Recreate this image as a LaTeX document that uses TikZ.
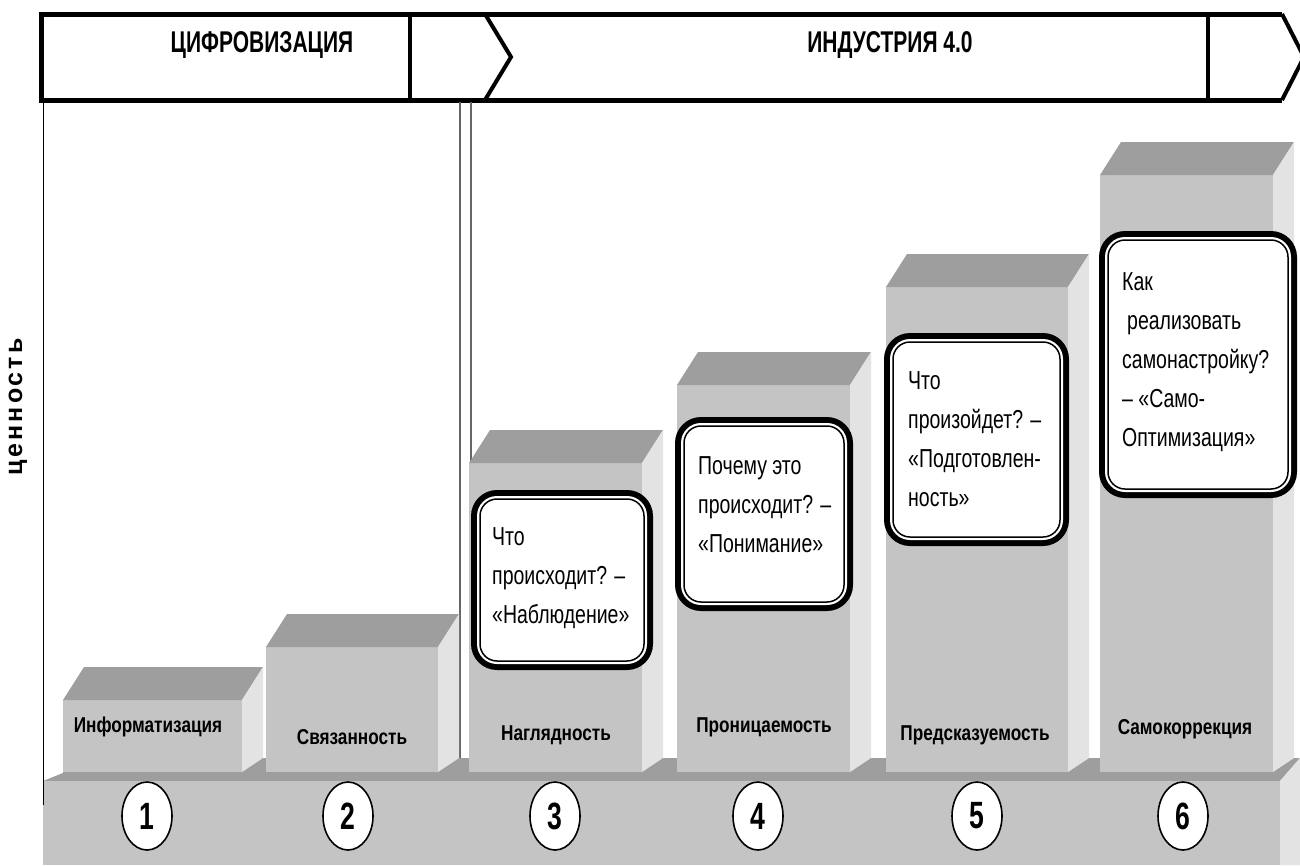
\documentclass[tikz,border=0pt]{standalone}
\usepackage{fontspec}
\setmainfont{Liberation Sans}
\newfontfamily\narrowfont[FakeStretch=0.8]{Liberation Sans}
\newfontfamily\qfont[FakeStretch=0.75]{Liberation Sans}
\newfontfamily\condfont[FakeStretch=0.7]{Liberation Sans}
\newfontfamily\widefont[LetterSpace=12]{Liberation Sans}
\usetikzlibrary{shapes.geometric}
\definecolor{frontg}{gray}{0.77}
\definecolor{topg}{gray}{0.62}
\definecolor{sideg}{gray}{0.89}
\newcommand{\myblock}[3]{%
  \fill[frontg] (#1,#3) rectangle (#2,772);
  \fill[topg] (#1,#3) -- (#2,#3) -- ({#2+21},{#3-33}) -- ({#1+21},{#3-33}) -- cycle;
  \fill[sideg] (#2,#3) -- ({#2+21},{#3-33}) -- ({#2+21},758) -- (#2,772) -- cycle;
}
\newcommand{\mycallout}[4]{%
  \fill[black, rounded corners=26] (#1,#2) rectangle (#3,#4);
  \fill[white, rounded corners=20] ({#1+6},{#2+6}) rectangle ({#3-6},{#4-6});
  \draw[line width=1.5, rounded corners=17] ({#1+9},{#2+9}) rectangle ({#3-9},{#4-9});
}
\begin{document}
\begin{tikzpicture}[x=1pt,y=-1pt,
  lbl/.style={font=\narrowfont\bfseries\fontsize{21.5}{26}\selectfont, inner sep=0},
  num/.style={ellipse, draw, line width=1.6, fill=white, minimum width=50, minimum height=68, inner sep=0, font=\condfont\bfseries\fontsize{38}{42}\selectfont},
  qtext/.style={anchor=north west, align=left, inner sep=0, font=\qfont\fontsize{26}{39}\selectfont},
  hdr/.style={font=\condfont\bfseries\fontsize{30}{34}\selectfont, inner sep=0}]
\useasboundingbox (0,0) rectangle (1300,865);
\clip (0,0) rectangle (1300,865);
\fill[white] (0,0) rectangle (1300,865);

% banner
\fill[white] (41,14) -- (1282,14) -- (1304,57) -- (1282,100) -- (41,100) -- cycle;
\draw[line width=5, line join=miter] (1282,14) -- (41,14) -- (41,100) -- (1282,100);
\draw[line width=4] (485,14) -- (511,57) -- (485,100);
\draw[line width=4] (1282,14) -- (1304,57) -- (1282,100);
\draw[line width=3.5] (410,14) -- (410,100);
\draw[line width=3.5] (1208,14) -- (1208,100);
\node[hdr] (h1) at (262,45) {ЦИФРОВИЗАЦИЯ};
\node[hdr] (h2) at (890,45) {ИНДУСТРИЯ 4.0};

% double separator
\draw[line width=1.2, black!60] (460,102) -- (460,758);
\draw[line width=1.2, black!60] (471,102) -- (471,758);

% base top face
\fill[topg] (43,781) -- (1280,781) -- (1300,758) -- (63,758) -- (63,773) -- cycle;

% blocks
\myblock{63}{242}{700}
\myblock{266}{438}{647}
\myblock{469}{642}{463}
\myblock{677}{850}{385}
\myblock{886}{1068}{287}
\myblock{1100}{1273}{175}

% base front and side
\fill[frontg] (43,781) rectangle (1280,865);
\fill[sideg] (1280,781) -- (1300,758) -- (1300,865) -- (1280,865) -- cycle;

% axis
\draw[line width=1] (43,102) -- (43,805);
\node[font=\widefont\bfseries\fontsize{25}{28}\selectfont, rotate=90, inner sep=0] (ax) at (18,407) {ценность};

% callouts
\mycallout{471}{490}{653}{670}
\mycallout{675}{417}{853}{611}
\mycallout{884}{333}{1069}{546}
\mycallout{1099}{231}{1297}{498}

\node[qtext] (q3) at (492,527) {Что\\происходит? –\\«Наблюдение»};
\node[qtext] (q4) at (698,456) {Почему это\\происходит? –\\«Понимание»};
\node[qtext] (q5) at (908,371) {Что\\произойдет? –\\«Подготовлен-\\ность»};
\node[qtext] (q6) at (1122,272) {Как\\\hspace*{5pt}реализовать\\самонастройку?\\– «Само-\\Оптимизация»};

% block labels
\node[lbl] (l1) at (148,727) {Информатизация};
\node[lbl] (l2) at (352,737) {Связанность};
\node[lbl] (l3) at (556,735) {Наглядность};
\node[lbl] (l4) at (764,727) {Проницаемость};
\node[lbl] (l5) at (975,735) {Предсказуемость};
\node[lbl] (l6) at (1185,729) {Самокоррекция};

% numbers
\node[num] (n1) at (147,816) {1};
\node[num] (n2) at (348,816) {2};
\node[num] (n3) at (555,816) {3};
\node[num] (n4) at (758,816) {4};
\node[num] (n5) at (977,816) {5};
\node[num] (n6) at (1183,816) {6};
\end{tikzpicture}
\end{document}
